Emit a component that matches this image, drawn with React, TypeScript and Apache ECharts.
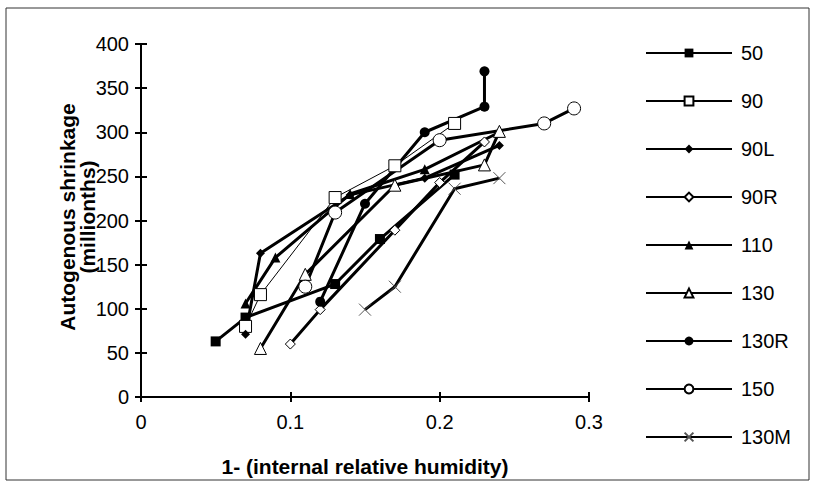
import React, { useEffect, useRef } from "react";
import * as echarts from "echarts";

const seriesNames = ["50", "90", "90L", "90R", "110", "130", "130R", "150", "130M"];

const s50 = [[0.05, 63], [0.07, 90], [0.13, 128], [0.16, 179], [0.21, 252]];
const s90 = [[0.07, 80], [0.08, 116], [0.13, 226], [0.17, 262], [0.21, 310]];
const s90L = [[0.07, 71], [0.08, 163], [0.14, 229], [0.19, 248], [0.24, 285]];
const s90R = [[0.10, 60], [0.12, 99], [0.17, 189], [0.20, 243], [0.23, 289]];
const s110 = [[0.07, 106], [0.09, 158], [0.14, 230], [0.19, 258], [0.24, 300]];
const s130 = [[0.08, 55], [0.11, 139], [0.17, 240], [0.23, 263], [0.24, 301]];
const s130R = [[0.12, 108], [0.15, 219], [0.19, 300], [0.23, 329], [0.23, 369]];
const s150 = [[0.11, 125], [0.13, 209], [0.20, 291], [0.27, 310], [0.29, 327]];
const s130M = [[0.15, 99], [0.17, 125], [0.21, 236], [0.24, 248]];

const xTicks = [0, 0.1, 0.2, 0.3];
const yTicks = [0, 50, 100, 150, 200, 250, 300, 350, 400];

const xTitle = "1- (internal relative humidity)";
const yTitleLines = ["Autogenous shrinkage", "(millionths)"];

const crossPath = "path://M0,0L10,10M10,0L0,10";

export default function App() {
  const ref = useRef<HTMLDivElement>(null);
  useEffect(() => {
    const chart = echarts.init(ref.current!, undefined, { renderer: "svg" });
    const font = "Liberation Sans, Arial, sans-serif";
    const mk = (name: string, data: number[][], symbol: string, size: number, filled: boolean, lw: number, markerColor = "#000") => ({
      name,
      type: "line",
      data,
      symbol,
      symbolSize: size,
      showSymbol: true,
      lineStyle: { color: "#000", width: lw },
      itemStyle: filled
        ? { color: markerColor, borderColor: markerColor, borderWidth: 0 }
        : symbol === crossPath
        ? { color: "none", borderColor: markerColor, borderWidth: 1 }
        : { color: "#fff", borderColor: "#000", borderWidth: 1 },
      emphasis: { disabled: true },
      z: 3,
    });
    const series = [
      mk("50", s50, "rect", 10, true, 3),
      mk("90", s90, "rect", 12, false, 1),
      mk("90L", s90L, "diamond", 9, true, 3),
      mk("90R", s90R, "diamond", 10, false, 3),
      mk("110", s110, "triangle", 10, true, 3),
      mk("130", s130, "triangle", 12, false, 3),
      mk("130R", s130R, "circle", 10, true, 3),
      mk("150", s150, "circle", 13, false, 3),
      mk("130M", s130M, crossPath, 12, false, 3, "#555"),
    ];
    const yTitleX = [67, 87];
    chart.setOption({
      animation: false,
      backgroundColor: "#fff",
      textStyle: { fontFamily: font },
      graphic: [
        {
          type: "rect",
          shape: { x: 6, y: 8, width: 803, height: 472 },
          style: { fill: "none", stroke: "#333", lineWidth: 1 },
          silent: true,
        },
        {
          type: "text",
          x: 365,
          y: 466,
          style: {
            text: xTitle,
            font: `bold 21px ${font}`,
            fill: "#000",
            align: "center",
            verticalAlign: "middle",
          },
          silent: true,
        },
        ...yTitleLines.map((t, i) => ({
          type: "text",
          x: yTitleX[i],
          y: 217,
          rotation: Math.PI / 2,
          style: {
            text: t,
            font: `bold 21px ${font}`,
            fill: "#000",
            align: "center",
            verticalAlign: "middle",
          },
          silent: true,
        })),
      ],
      grid: { left: 141, top: 44, width: 448, height: 353 },
      legend: {
        orient: "vertical",
        left: 645,
        top: 43,
        padding: 0,
        itemWidth: 86,
        itemHeight: 11,
        itemGap: 28,
        data: seriesNames,
        textStyle: { fontSize: 20, color: "#000", fontFamily: font, lineHeight: 20, padding: [0, 0, 0, 4] },
        inactiveColor: "#000",
        selectedMode: false,
      },
      xAxis: [
        {
          type: "value",
          min: xTicks[0],
          max: xTicks[xTicks.length - 1],
          interval: 0.1,
          splitLine: { show: false },
          axisLine: { show: true, onZero: false, lineStyle: { color: "#000", width: 2 } },
          axisTick: { show: true, length: 5, lineStyle: { color: "#000", width: 2 } },
          axisLabel: { fontSize: 20, color: "#000", margin: 15, fontFamily: font },
        },
        {
          type: "value",
          position: "bottom",
          min: xTicks[0],
          max: xTicks[xTicks.length - 1],
          interval: 0.1,
          splitLine: { show: false },
          axisLine: { show: false },
          axisTick: { show: true, inside: true, length: 5, lineStyle: { color: "#000", width: 2 } },
          axisLabel: { show: false },
        },
      ],
      yAxis: [
        {
          type: "value",
          min: yTicks[0],
          max: yTicks[yTicks.length - 1],
          interval: 50,
          splitLine: { show: false },
          axisLine: { show: true, onZero: false, lineStyle: { color: "#000", width: 2 } },
          axisTick: { show: true, length: 6, lineStyle: { color: "#000", width: 2 } },
          axisLabel: { fontSize: 20, color: "#000", margin: 12, fontFamily: font },
        },
        {
          type: "value",
          position: "left",
          min: yTicks[0],
          max: yTicks[yTicks.length - 1],
          interval: 50,
          splitLine: { show: false },
          axisLine: { show: false },
          axisTick: { show: true, inside: true, length: 6, lineStyle: { color: "#000", width: 2 } },
          axisLabel: { show: false },
        },
      ],
      series,
    });
    return () => chart.dispose();
  }, []);
  return (
    <div
      ref={ref}
      style={{ position: "absolute", left: 0, top: 0, width: 817, height: 489 }}
    />
  );
}
